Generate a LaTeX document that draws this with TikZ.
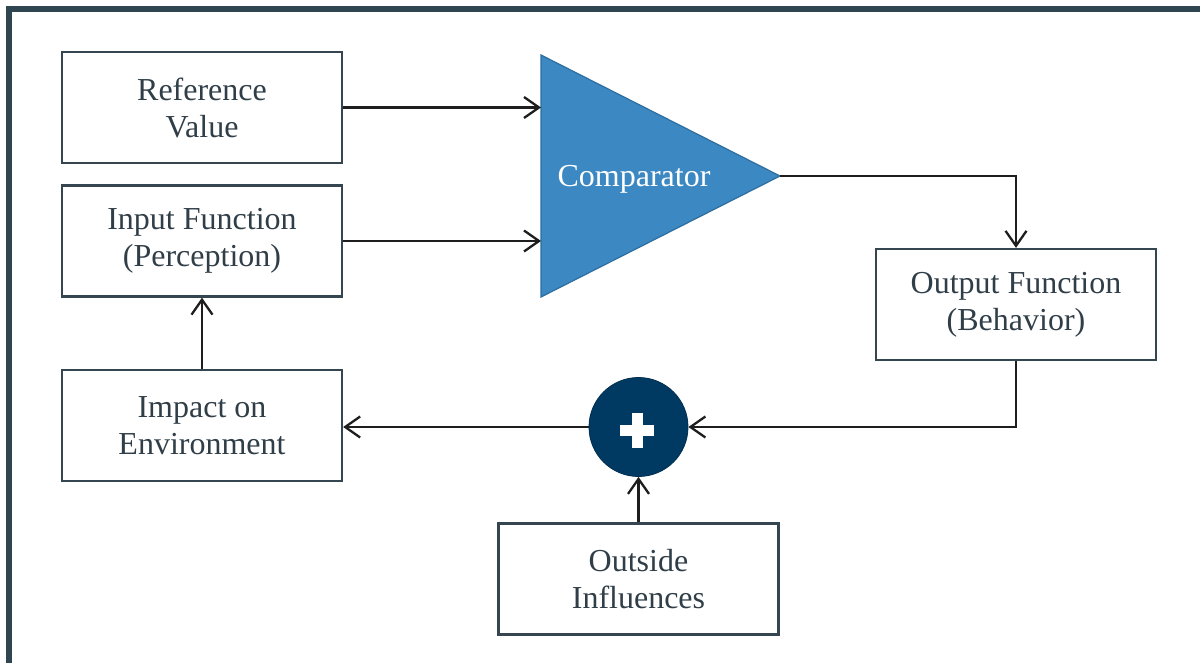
\documentclass[tikz,border=0pt]{standalone}
\usepackage{fontspec}
\setmainfont{Liberation Serif}
\usetikzlibrary{arrows.meta}
\definecolor{framecol}{HTML}{2F4550}
\definecolor{boxline}{HTML}{354650}
\definecolor{txt}{HTML}{303E48}
\definecolor{cmpfill}{HTML}{3C88C2}
\definecolor{cmpline}{HTML}{2E6E9E}
\definecolor{sumfill}{HTML}{003A63}
\definecolor{wire}{HTML}{1E1E1E}
\begin{document}
\begin{tikzpicture}[x=1pt,y=-1pt,
  block/.style={draw=boxline, line width=2.3pt, minimum width=280pt,
    minimum height=111pt, align=center, text=txt, inner sep=0pt,
    font=\fontsize{32}{37}\selectfont},
  link/.style={draw=wire, line width=2.3pt,
    -{Straight Barb[length=15pt,width=21pt,line width=2.3pt]}}]
\useasboundingbox (0,0) rectangle (1200,663);
\clip (0,0) rectangle (1200,663);
% outer frame
\draw[framecol, line width=6pt] (8.5,9.5) rectangle (1240,720);

% blocks
\node[block] (ref) at (202,107.5) {Reference\\Value};
\node[block] (inp) at (202,241) {Input Function\\(Perception)};
\node[block] (imp) at (202,425.5) {Impact on\\Environment};
\node[block] (out) at (1016,304.5) {Output Function\\(Behavior)};
\node[block] (ext) at (638.5,579) {Outside\\Influences};

% comparator triangle
\draw[cmpline, fill=cmpfill, line width=1.2pt] (541,55) -- (780,176) -- (541,297) -- cycle;
\coordinate (cin1) at (541,107.5);
\coordinate (cin2) at (541,241);
\coordinate (cout) at (780,176);
\node[text=white, font=\fontsize{32}{37}\selectfont] (cmp) at (634,179) {Comparator};

% summing junction
\node[circle, fill=sumfill, draw=sumfill!80!black, line width=0.8pt,
  minimum size=99pt, inner sep=0pt] (sum) at (638.5,427) {};
\fill[white] (620,425) rectangle (654,436);
\fill[white] (631.5,413) rectangle (642.5,448);

% connectors
\draw[link] (ref.east) -- (cin1);
\draw[link] (inp.east) -- (cin2);
\draw[link] (cout) -| (out.north);
\draw[link] (out.south) |- (sum.east);
\draw[link] (sum.west) -- (sum.west -| imp.east);
\draw[link] (ext.north) -- (sum.south);
\draw[link] (imp.north) -- (inp.south);
\end{tikzpicture}
\end{document}
